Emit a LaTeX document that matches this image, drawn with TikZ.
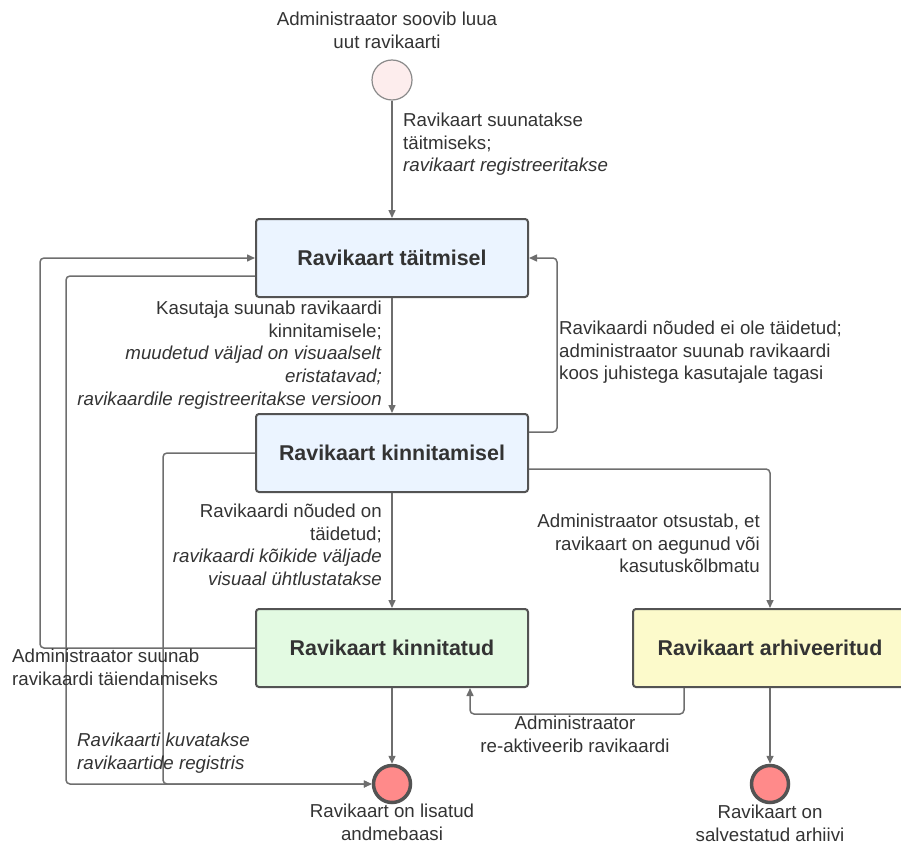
\documentclass[tikz,border=0pt]{standalone}
\usepackage{fontspec}
\setmainfont{Liberation Sans}
\usetikzlibrary{arrows.meta}

\definecolor{linegray}{HTML}{6E6E6E}
\definecolor{boxedge}{HTML}{535353}
\definecolor{txt}{HTML}{333333}
\definecolor{bluefill}{HTML}{EBF4FF}
\definecolor{greenfill}{HTML}{E3FAE2}
\definecolor{yellowfill}{HTML}{FCFACB}
\definecolor{startfill}{HTML}{FDEDED}
\definecolor{startedge}{HTML}{8A8A8A}
\definecolor{endfill}{HTML}{FF8A8A}

\tikzset{
  statebox/.style={draw=boxedge, line width=2pt, rounded corners=3pt,
    minimum width=272pt, minimum height=78pt, inner sep=0pt, text=txt,
    font=\fontsize{21.4}{25}\selectfont\bfseries},
  startdot/.style={circle, draw=startedge, line width=1.2pt, fill=startfill,
    minimum size=40pt, inner sep=0pt},
  enddot/.style={circle, draw=boxedge, line width=3.5pt, fill=endfill,
    minimum size=37pt, inner sep=0pt},
  lbl/.style={inner sep=0pt, text=txt, font=\fontsize{18.7}{22.6}\selectfont},
  conn/.style={draw=linegray, line width=1.5pt, rounded corners=4pt,
    -{Triangle[length=8pt,width=7pt]}},
}

\begin{document}
\begin{tikzpicture}[x=1pt,y=-1pt]
\useasboundingbox (0,0) rectangle (901,845);

% states
\node[startdot] (s) at (392,80) {};
\node[statebox, fill=bluefill] (b1) at (392,258) {Ravikaart täitmisel};
\node[statebox, fill=bluefill] (b2) at (392,453) {Ravikaart kinnitamisel};
\node[statebox, fill=greenfill] (b3) at (392,648) {Ravikaart kinnitatud};
\node[statebox, fill=yellowfill, minimum width=274pt] (b4) at (770,648) {Ravikaart arhiveeritud};
\node[enddot] (e1) at (392,784) {};
\node[enddot] (e2) at (770,784) {};

% transitions
\draw[conn] (s) -- (b1);
\draw[conn] (b1) -- (b2);
\draw[conn] ([yshift=21pt]b2.east) -- ++(28,0) |- (b1.east);
\draw[conn] ([yshift=-16pt]b2.east) -| (b4.north);
\draw[conn] (b2) -- (b3);
\draw[conn] (b3.west) -- ++(-215,0) |- (b1.west);
\draw[conn] ([yshift=-18pt]b1.west) -- ++(-189,0) |- (e1.west);
\draw[conn] (b2.west) -- ++(-92,0) |- (e1.west);
\draw[conn] (b3) -- (e1);
\draw[conn] ([xshift=-86pt]b4.south) -- ++(0,26) -| ([xshift=78pt]b3.south);
\draw[conn] (b4) -- (e2);

% labels
\node[lbl, anchor=north, align=center] (ls) at (387,12)
  {Administraator soovib luua\\uut ravikaarti};
\node[lbl, anchor=north west, align=left] (l1) at (403,113)
  {Ravikaart suunatakse\\täitmiseks;\\\textit{ravikaart registreeritakse}};
\node[lbl, anchor=north east, align=right] (l2) at (382,301)
  {Kasutaja suunab ravikaardi\\kinnitamisele;\\\textit{muudetud väljad on visuaalselt}\\\textit{eristatavad;}\\\textit{ravikaardile registreeritakse versioon}};
\node[lbl, anchor=north west, align=left] (l3) at (559,321)
  {Ravikaardi nõuded ei ole täidetud;\\administraator suunab ravikaardi\\koos juhistega kasutajale tagasi};
\node[lbl, anchor=north east, align=right] (l4) at (382,504)
  {Ravikaardi nõuded on\\täidetud;\\\textit{ravikaardi kõikide väljade}\\\textit{visuaal ühtlustatakse}};
\node[lbl, anchor=north east, align=right] (l5) at (760,514)
  {Administraator otsustab, et\\ravikaart on aegunud või\\kasutuskõlbmatu};
\node[lbl, anchor=north, align=center] (l6) at (575,716)
  {Administraator\\re-aktiveerib ravikaardi};
\node[lbl, anchor=north west, align=left] (l7) at (12,649)
  {Administraator suunab\\ravikaardi täiendamiseks};
\node[lbl, anchor=north west, align=left] (l8) at (77,733)
  {\textit{Ravikaarti kuvatakse}\\\textit{ravikaartide registris}};
\node[lbl, anchor=north, align=center] (le1) at (392,804)
  {Ravikaart on lisatud\\andmebaasi};
\node[lbl, anchor=north, align=center] (le2) at (770,805)
  {Ravikaart on\\salvestatud arhiivi};
\end{tikzpicture}
\end{document}
